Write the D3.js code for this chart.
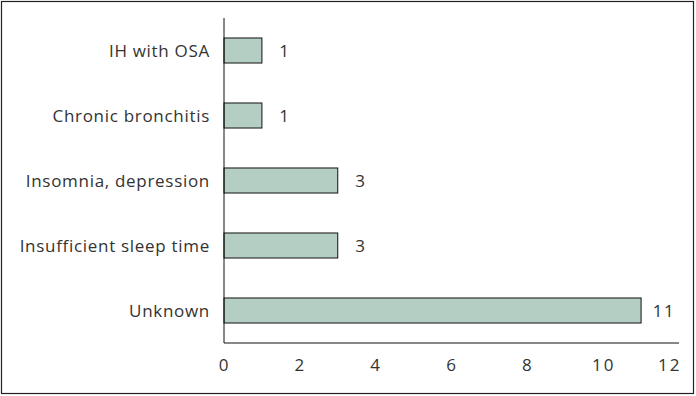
<!DOCTYPE html>
<html>
<head>
<meta charset="utf-8">
<script src="https://cdn.jsdelivr.net/npm/d3@7"></script>
<style>
  body { margin: 0; background: #fff; }
  svg text { font-family: "Open Sans", Lato, sans-serif; fill: #333; }
</style>
</head>
<body>
<svg id="chart" width="696" height="396"></svg>
<script>
const categories = ['IH with OSA', 'Chronic bronchitis', 'Insomnia, depression', 'Insufficient sleep time', 'Unknown'];
const counts = [1, 1, 3, 3, 11];
const xTicks = [0, 2, 4, 6, 8, 10, 12];

const svg = d3.select('#chart');
const plotLeft = 224, plotRight = 679, plotTop = 18, plotBottom = 343;

// outer frame
svg.append('rect')
  .attr('x', 1.5).attr('y', 1.5)
  .attr('width', 692).attr('height', 392)
  .attr('fill', 'none').attr('stroke', '#222').attr('stroke-width', 1.2);

const x = d3.scaleLinear().domain([0, 12]).range([plotLeft, plotRight]);
const y = d3.scaleBand().domain(categories).range([plotTop, plotBottom]).paddingInner(0.615).paddingOuter(0.3075);

svg.append('g')
  .selectAll('rect')
  .data(categories)
  .join('rect')
  .attr('x', x(0))
  .attr('y', d => y(d))
  .attr('width', (d, i) => x(counts[i]) - x(0))
  .attr('height', y.bandwidth())
  .attr('fill', '#b4cec3')
  .attr('stroke', '#111')
  .attr('stroke-width', 1);

// value labels
svg.append('g')
  .selectAll('text')
  .data(categories)
  .join('text')
  .attr('x', (d, i) => x(counts[i]) + 23)
  .attr('y', d => y(d) + y.bandwidth() / 2 + 1)
  .attr('dy', '0.35em')
  .attr('text-anchor', 'middle')
  .attr('font-size', 17)
  .attr('letter-spacing', 1.5)
  .text((d, i) => counts[i]);

// y axis
const yAxis = svg.append('g')
  .attr('transform', `translate(${plotLeft},1)`)
  .call(d3.axisLeft(y).tickSize(0).tickPadding(14));
yAxis.select('.domain').attr('stroke', '#111').attr('d', `M0,${plotTop - 1}V${plotBottom - 1}`);
yAxis.selectAll('text').attr('font-size', 17).attr('letter-spacing', 0.7);
yAxis.attr('font-family', null);

// x axis
const xAxis = svg.append('g')
  .attr('transform', `translate(0,${plotBottom})`)
  .call(d3.axisBottom(x).tickValues(xTicks).tickSize(0).tickPadding(16));
xAxis.select('.domain').attr('stroke', '#111').attr('d', `M${plotLeft},0H${plotRight}`);
xAxis.selectAll('text').attr('font-size', 17).attr('letter-spacing', 2);
xAxis.selectAll('.tick:last-of-type text').attr('text-anchor', 'end').attr('dx', 2);
xAxis.attr('font-family', null);
</script>
</body>
</html>
